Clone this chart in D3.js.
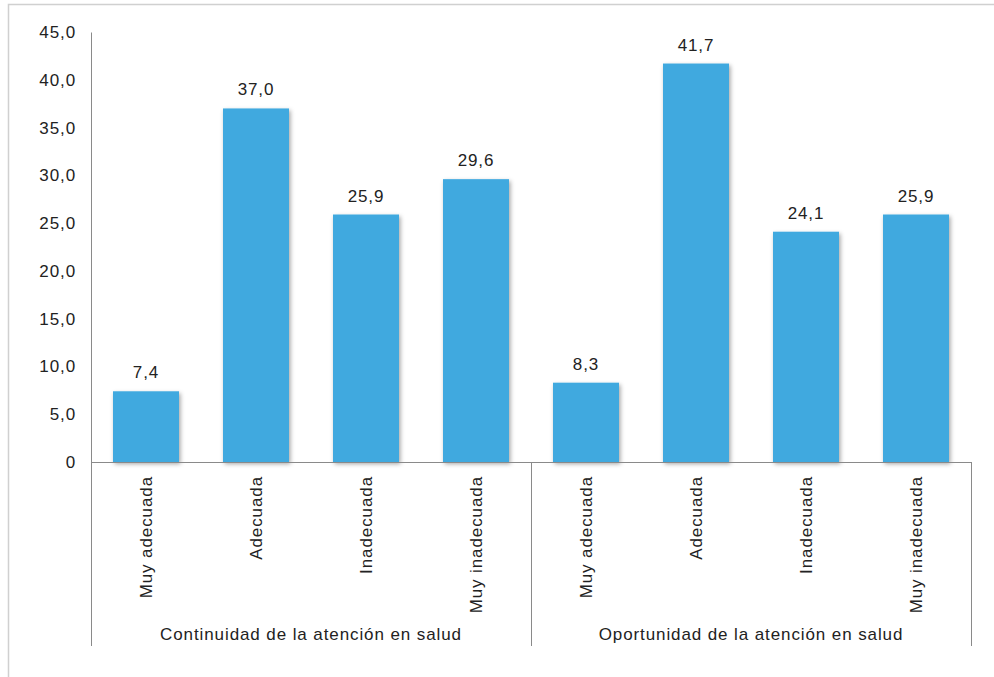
<!DOCTYPE html>
<html>
<head>
<meta charset="utf-8">
<script src="https://cdn.jsdelivr.net/npm/d3@7"></script>
<style>
  body { margin: 0; background: #fff; }
  text { font-family: "Liberation Sans", Arial, sans-serif; fill: #222; letter-spacing: 0.9px; }
</style>
</head>
<body>
<div id="chart"></div>
<script>
// categories and values
const groups = ["Continuidad de la atención en salud", "Oportunidad de la atención en salud"];
const categories = ["Muy adecuada", "Adecuada", "Inadecuada", "Muy inadecuada"];
const continuidad = [7.4, 37.0, 25.9, 29.6];
const oportunidad = [8.3, 41.7, 24.1, 25.9];
const yTicks = [0, 5, 10, 15, 20, 25, 30, 35, 40, 45];

const width = 994, height = 677;
const margins = { top: 32, right: 23, bottom: 215, left: 91 };
const innerWidth = width - margins.left - margins.right;
const innerHeight = height - margins.top - margins.bottom;

const rows = [];
[continuidad, oportunidad].forEach((vals, gi) => {
  vals.forEach((v, ci) => rows.push({ key: gi + "-" + ci, group: gi, cat: categories[ci], value: v }));
});

const fmt = v => v === 0 ? "0" : d3.format(".1f")(v).replace(".", ",");

const svg = d3.select("#chart").append("svg")
  .attr("width", width)
  .attr("height", height);

// outer frame (left + top edges visible)
svg.append("path")
  .attr("d", `M8.5,${height} V4.5 H${width}`)
  .attr("fill", "none")
  .attr("stroke", "#d0d0d0")
  .attr("stroke-width", 1.5);

const defs = svg.append("defs");
const shadow = defs.append("filter").attr("id", "shadow")
  .attr("x", "-20%").attr("y", "-20%").attr("width", "150%").attr("height", "150%");
shadow.append("feDropShadow")
  .attr("dx", 1.5).attr("dy", 2).attr("stdDeviation", 2.2)
  .attr("flood-color", "#000").attr("flood-opacity", 0.35);

const g = svg.append("g")
  .attr("transform", `translate(${margins.left}, ${margins.top})`);

const xScale = d3.scaleBand()
  .domain(rows.map(d => d.key))
  .range([0, innerWidth])
  .paddingInner(0.4)
  .paddingOuter(0.2);

const groupScale = d3.scaleBand()
  .domain(d3.range(groups.length))
  .range([0, innerWidth]);

const yScale = d3.scaleLinear()
  .domain([0, 45])
  .range([innerHeight, 0]);

// y axis
const yAxis = d3.axisLeft(yScale)
  .tickValues(yTicks)
  .tickFormat(fmt)
  .tickSize(0)
  .tickPadding(15);

g.append("g")
  .attr("class", "y axis")
  .call(yAxis)
  .call(s => s.select(".domain").attr("stroke", "#8a8a8a"))
  .call(s => s.selectAll("text").attr("font-size", 17).attr("fill", "#222")
    .attr("font-family", "Liberation Sans, Arial, sans-serif"));

// bars
g.selectAll("rect.bar")
  .data(rows)
  .enter()
  .append("rect")
  .attr("class", "bar")
  .attr("x", d => xScale(d.key))
  .attr("y", d => yScale(d.value))
  .attr("width", xScale.bandwidth())
  .attr("height", d => innerHeight - yScale(d.value))
  .attr("fill", "#3fa9df")
  .attr("filter", "url(#shadow)");

// value labels
g.selectAll("text.val")
  .data(rows)
  .enter()
  .append("text")
  .attr("class", "val")
  .attr("x", d => xScale(d.key) + xScale.bandwidth() / 2)
  .attr("y", d => yScale(d.value) - 13)
  .attr("text-anchor", "middle")
  .attr("font-size", 17)
  .text(d => fmt(d.value));

// x baseline
g.append("line")
  .attr("x1", 0).attr("x2", innerWidth)
  .attr("y1", innerHeight + 0.5).attr("y2", innerHeight + 0.5)
  .attr("stroke", "#8a8a8a");

// group separators
const seps = d3.range(groups.length + 1).map(i => i === groups.length ? innerWidth : groupScale(i));
g.selectAll("line.sep")
  .data(seps)
  .enter()
  .append("line")
  .attr("class", "sep")
  .attr("x1", d => Math.round(d) + 0.5).attr("x2", d => Math.round(d) + 0.5)
  .attr("y1", innerHeight).attr("y2", innerHeight + 184)
  .attr("stroke", "#8a8a8a");

// category labels (rotated)
g.selectAll("text.cat")
  .data(rows)
  .enter()
  .append("text")
  .attr("class", "cat")
  .attr("transform", d => `translate(${xScale(d.key) + xScale.bandwidth() / 2 + 6}, ${innerHeight + 14}) rotate(-90)`)
  .attr("text-anchor", "end")
  .attr("font-size", 17)
  .text(d => d.cat);

// group labels
g.selectAll("text.grp")
  .data(groups)
  .enter()
  .append("text")
  .attr("class", "grp")
  .attr("x", (d, i) => groupScale(i) + groupScale.bandwidth() / 2)
  .attr("y", innerHeight + 178)
  .attr("text-anchor", "middle")
  .attr("font-size", 17)
  .text(d => d);
</script>
</body>
</html>
